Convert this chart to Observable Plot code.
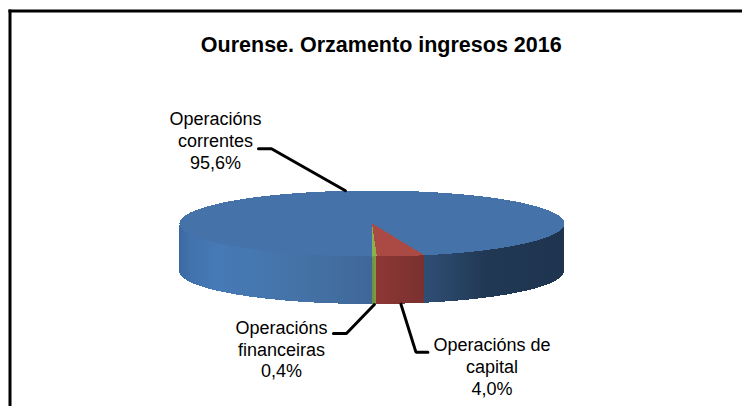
<!DOCTYPE html>
<html>
<head>
<meta charset="utf-8">
<script src="https://cdn.jsdelivr.net/npm/d3@7"></script>
<script src="https://cdn.jsdelivr.net/npm/@observablehq/plot@0.6"></script>
<style>
  html, body { margin: 0; padding: 0; background: #fff; }
  svg { display: block; }
</style>
</head>
<body>
<div id="chart"></div>
<script>
// --- Data ---
const chartTitle = "Ourense. Orzamento ingresos 2016";
const categories = ["Operacións\ncorrentes", "Operacións de\ncapital", "Operacións\nfinanceiras"];
const shares = [95.6, 4.0, 0.4];
const shareLabels = ["95,6%", "4,0%", "0,4%"];

// --- Style and layout ---
const topColors = ["#4672aa", "#ab4a45", "#8db04f"];
const firstSliceAngle = 180;
const cx = 371.5, cy = 223, rx = 192.5, ry = 33, wall = 48;
// pixel offsets from each slice's rim anchor
const labelOffsets = [[-130, -51], [91, 62], [-93, 44]];
const leaderOffsets = [
  [[-87, -42], [-74, -42], [0, 0]],
  [[27, 48], [15, 48], [0, 0]],
  [[-41, 29], [-28, 29], [0, 0]]
];

// --- Geometry in unit-circle coordinates ---
const rad = (d) => (d * Math.PI) / 180;
const depth = wall / ry;
const rim = (deg) => ({x: Math.sin(rad(deg)), y: Math.cos(rad(deg))});
const total = d3.sum(shares);
let start = firstSliceAngle;
const slices = shares.map((v, i) => {
  const a0 = start, a1 = start + (v / total) * 360;
  start = a1;
  return {i, a0, a1, mid: (a0 + a1) / 2};
});
const sweep = (a0, a1) => d3.range(0, 181).map((k) => rim(a0 + ((a1 - a0) * k) / 180));
const wedge = (s) => [{x: 0, y: 0}, ...sweep(s.a0, s.a1), {x: 0, y: 0}];
const wallRun = (a0, a1) => sweep(a0, a1).map((p) => ({x: p.x, y1: p.y, y2: p.y - depth}));
const anchorOf = (s) => {
  const p = rim(s.mid);
  return {x: p.x, y: Math.abs((s.mid % 360)) > 90 && (s.mid % 360) < 270 ? p.y - depth : p.y};
};
const shifted = (p, [dx, dy]) => ({x: p.x + dx / rx, y: p.y - dy / ry});

const [blue, red, green] = slices;
const blueEnd = blue.a1 % 360;

function gradient(defs, id, stops) {
  const g = defs.append("linearGradient").attr("id", id);
  stops.forEach(([o, c]) => g.append("stop").attr("offset", o).attr("stop-color", c));
}
const gradients = () => {
  const defs = d3.create("svg:defs");
  gradient(defs, "wall-blue-left", [[0, "#3a69a2"], [0.06, "#4272ad"], [0.2, "#467ab6"], [0.6, "#4573a8"], [1, "#3f6898"]]);
  gradient(defs, "wall-blue-right", [[0, "#2f4e75"], [0.45, "#213854"], [1, "#1e344f"]]);
  gradient(defs, "wall-red", [[0, "#8c3735"], [1, "#7a3130"]]);
  gradient(defs, "wall-green", [[0, "#6f8c3c"], [1, "#7f9f46"]]);
  return defs.node();
};

const wallArea = (rows, fill) =>
  Plot.areaY(rows, {x: "x", y1: "y1", y2: "y2", fill, shapeRendering: "crispEdges"});
const topFace = (s) =>
  Plot.line(wedge(s), {x: "x", y: "y", fill: topColors[s.i], stroke: "none", shapeRendering: "crispEdges"});

const textStyle = {fontFamily: "'Liberation Sans', Arial, sans-serif", fill: "#000"};

const plot = Plot.plot({
  width: 742,
  height: 406,
  marginTop: 10.5,
  marginLeft: 9.5,
  marginRight: 0,
  marginBottom: 0,
  style: {background: "#fff"},
  x: {domain: [-1, 1], range: [cx - rx, cx + rx], axis: null},
  y: {domain: [-1, 1], range: [cy + ry, cy - ry], axis: null},
  marks: [
    gradients,
    Plot.frame({anchor: "top", stroke: "#000", strokeWidth: 3}),
    Plot.frame({anchor: "left", stroke: "#000", strokeWidth: 3}),
    Plot.text([chartTitle], {
      frameAnchor: "top", dy: 26, dx: 5,
      fontSize: 21.5, fontWeight: "bold", ...textStyle
    }),
    wallArea(wallRun(180, 270), "url(#wall-blue-left)"),
    wallArea(wallRun(90, blueEnd), "url(#wall-blue-right)"),
    wallArea(wallRun(blueEnd, red.a1 % 360), "url(#wall-red)"),
    wallArea(wallRun(red.a1 % 360, 180), "url(#wall-green)"),
    topFace(blue),
    topFace(red),
    topFace(green),
    ...slices.map((s) =>
      Plot.line(leaderOffsets[s.i].map((o) => shifted(anchorOf(s), o)), {
        x: "x", y: "y", stroke: "#000", strokeWidth: 3, strokeLinejoin: "miter", curve: "linear"
      })
    ),
    ...slices.map((s) => {
      const p = shifted(anchorOf(s), labelOffsets[s.i]);
      return Plot.text([`${categories[s.i]}\n${shareLabels[s.i]}`], {
        x: () => p.x, y: () => p.y,
        fontSize: 18, lineHeight: 1.22, textAnchor: "middle", ...textStyle
      });
    })
  ]
});
document.getElementById("chart").append(plot);
</script>
</body>
</html>
